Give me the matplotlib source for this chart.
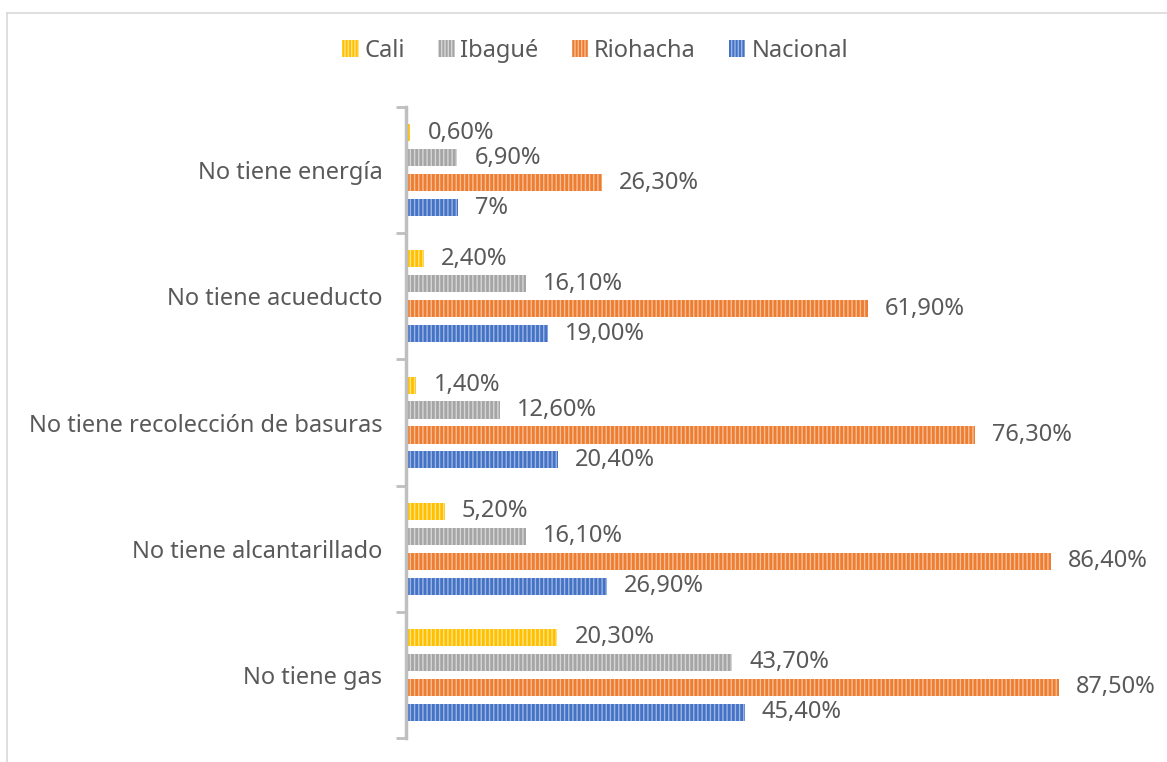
import numpy as np
import matplotlib.pyplot as plt
from matplotlib.lines import Line2D

categories = ["No tiene energía", "No tiene acueducto", "No tiene recolección de basuras",
              "No tiene alcantarillado", "No tiene gas"]
series = ["Cali", "Ibagué", "Riohacha", "Nacional"]
cali = [0.6, 2.4, 1.4, 5.2, 20.3]
ibague = [6.9, 16.1, 12.6, 16.1, 43.7]
riohacha = [26.3, 61.9, 76.3, 86.4, 87.5]
nacional = [7.0, 19.0, 20.4, 26.9, 45.4]
labels = [
    ["0,60%", "2,40%", "1,40%", "5,20%", "20,30%"],
    ["6,90%", "16,10%", "12,60%", "16,10%", "43,70%"],
    ["26,30%", "61,90%", "76,30%", "86,40%", "87,50%"],
    ["7%", "19,00%", "20,40%", "26,90%", "45,40%"],
]
colors = ["#FFC000", "#A5A5A5", "#ED7D31", "#4472C4"]
stripes = ["#FFE38A", "#D6D6D6", "#F7BE98", "#9DB5E3"]

plt.rcParams['font.family'] = ['Noto Sans', 'DejaVu Sans']
plt.rcParams['hatch.linewidth'] = 1.0
text_color = "#595959"

fig = plt.figure(figsize=(11.67, 7.62), dpi=100)
W, H = 1167, 762
ax = fig.add_axes([406 / W, (H - 738) / H, (1152 - 406) / W, (738 - 107) / H])

values = [cali, ibague, riohacha, nacional]
n = len(categories)
offsets = [-0.297, -0.099, 0.099, 0.297]
bar_h = 0.135
px_per_unit = (1152 - 406) / 100.0

for s in range(4):
    y = np.arange(n) + 0.5 + offsets[s]
    ax.barh(y, values[s], height=bar_h, color=colors[s], linewidth=0)
    ax.barh(y, values[s], height=bar_h, facecolor="none", edgecolor=stripes[s],
            hatch="||||", linewidth=0)
    for i in range(n):
        ax.text(values[s][i] + 17 / px_per_unit, y[i], labels[s][i], va="center",
                ha="left", fontsize=17, color=text_color)

ax.set_xlim(0, 100)
ax.set_ylim(n, 0)
ax.set_xticks([])
ax.set_yticks(np.arange(n) + 0.5)
ax.set_yticklabels(categories, fontsize=17, color=text_color)
ax.tick_params(axis="y", which="major", length=0, pad=17)
ax.set_yticks(np.arange(n + 1), minor=True)
ax.tick_params(axis="y", which="minor", length=7, width=2, color="#BFBFBF")
for side in ["top", "right", "bottom"]:
    ax.spines[side].set_visible(False)
ax.spines["left"].set_color("#BFBFBF")
ax.spines["left"].set_linewidth(2.5)

# legend
handles = []
for s in range(4):
    handles.append(plt.Rectangle((0, 0), 1, 1, facecolor=colors[s], edgecolor=stripes[s],
                                 hatch="|||||", linewidth=0))
fig.legend(handles, series, loc="center", bbox_to_anchor=(595 / W, 1 - 51 / H), ncol=4,
           frameon=False, fontsize=17, labelcolor=text_color, handlelength=0.7,
           handleheight=0.7, handletextpad=0.25, columnspacing=1.4)

# chart frame
fig.add_artist(Line2D([7 / W, 1], [1 - 13 / H, 1 - 13 / H], color="#D9D9D9", lw=1.2))
fig.add_artist(Line2D([7 / W, 7 / W], [0, 1 - 13 / H], color="#D9D9D9", lw=1.2))

fig.savefig("out.png", dpi=100)
